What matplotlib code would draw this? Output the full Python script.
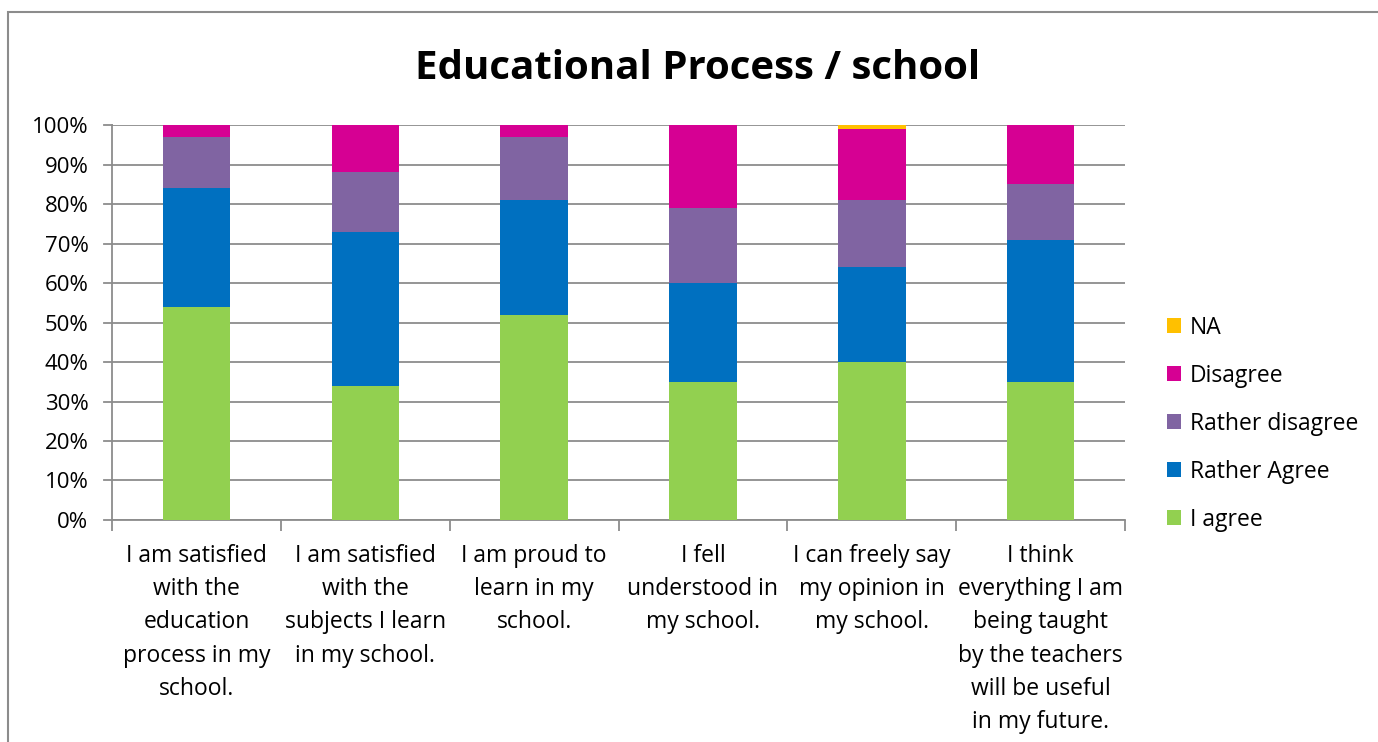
import matplotlib.pyplot as plt
import numpy as np
from matplotlib.patches import Rectangle

plt.rcParams['font.family'] = ['Open Sans', 'DejaVu Sans']

# Данные
questions = [
    'I am satisfied\nwith the\neducation\nprocess in my\nschool.',
    'I am satisfied\nwith the\nsubjects I learn\nin my school.',
    'I am proud to\nlearn in my\nschool.',
    'I fell\nunderstood in\nmy school.',
    'I can freely say\nmy opinion in\nmy school.',
    'I think\neverything I am\nbeing taught\nby the teachers\nwill be useful\nin my future.',
]
i_agree = [54, 34, 52, 35, 40, 35]
rather_agree = [30, 39, 29, 25, 24, 36]
rather_disagree = [13, 15, 16, 19, 17, 14]
disagree = [3, 12, 3, 21, 18, 15]
na = [0, 0, 0, 0, 1, 0]

series = [
    ('I agree', i_agree, '#92D050'),
    ('Rather Agree', rather_agree, '#0070C0'),
    ('Rather disagree', rather_disagree, '#8064A2'),
    ('Disagree', disagree, '#D60093'),
    ('NA', na, '#FFC000'),
]

fig = plt.figure(figsize=(13.78, 7.42), dpi=100)
ax = fig.add_axes([0.0813, 0.2992, 0.7351, 0.5323])

# Рамка диаграммы
fig.patches.append(Rectangle((8 / 1378, -0.05), 1.1, 1 - 12 / 742 + 0.05,
                             transform=fig.transFigure, fill=False,
                             edgecolor='#8C8C8C', linewidth=1.5))

x = np.arange(len(questions))
bottom = np.zeros(len(questions))
handles = []
for name, vals, color in series:
    b = ax.bar(x, vals, 0.4, bottom=bottom, color=color, label=name, zorder=3)
    handles.append(b)
    bottom += np.array(vals)

ax.set_xlim(-0.5, 5.5)
ax.set_ylim(0, 100)
ax.set_yticks(np.arange(0, 101, 10))
ax.set_yticklabels([f'{v}%' for v in range(0, 101, 10)], fontsize=16)
ax.yaxis.grid(True, color='#8C8C8C', linewidth=1.3, zorder=0)
ax.tick_params(axis='y', length=0, pad=17)

ax.set_xticks(x)
ax.set_xticklabels(questions, fontsize=16.5, linespacing=1.52)
ax.tick_params(axis='x', which='major', length=0, pad=17)
ax.set_xticks(np.arange(-0.5, 6, 1), minor=True)
ax.tick_params(axis='x', which='minor', length=8, color='#8C8C8C', width=1.3)

for s in ['top', 'right']:
    ax.spines[s].set_visible(False)
ax.spines['left'].set_color('#8C8C8C')
ax.spines['bottom'].set_color('#8C8C8C')
ax.spines['left'].set_linewidth(1.3)
ax.spines['bottom'].set_linewidth(1.3)

# Маленькие засечки слева на оси Y
for v in range(0, 101, 10):
    ax.plot([-0.5 - 0.045, -0.5], [v, v], color='#8C8C8C', linewidth=1.3,
            clip_on=False, zorder=2)

fig.text(0.506, 0.908, 'Educational Process / school', ha='center', va='center',
         fontsize=29, fontweight='bold')

leg = fig.legend(handles[::-1], [s[0] for s in series][::-1],
                 loc='center left', bbox_to_anchor=(0.847, 0.429),
                 frameon=False, fontsize=16.5, handlelength=0.6, handleheight=0.6,
                 handletextpad=0.4, labelspacing=1.05, borderpad=0, borderaxespad=0)

plt.savefig('out.png', dpi=100)
